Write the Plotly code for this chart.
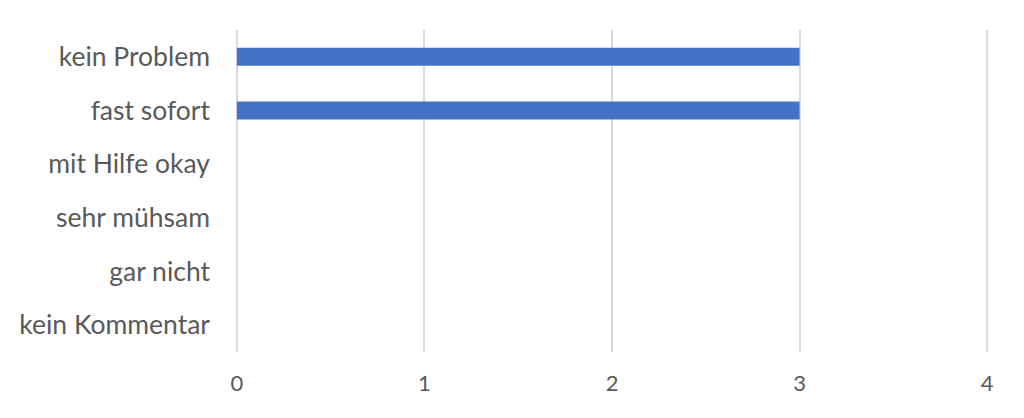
import plotly.graph_objects as go

categories = ["kein Problem", "fast sofort", "mit Hilfe okay", "sehr mühsam", "gar nicht", "kein Kommentar"]
values = [3, 3, 0, 0, 0, 0]
x_ticks = [0, 1, 2, 3, 4]

fig = go.Figure(go.Bar(
    y=categories, x=values, orientation="h",
    marker=dict(color="#4472C4", line=dict(width=0)),
))

fig.update_layout(
    width=1008, height=402,
    margin=dict(l=227, r=27, t=22, b=58),
    paper_bgcolor="white", plot_bgcolor="white",
    bargap=0.665,
    showlegend=False,
    font=dict(family="Lato", size=26.5, color="#595959"),
)
fig.update_xaxes(
    range=[-0.01, 4.01], tickvals=x_ticks, showgrid=True, gridcolor="#D9D9D9", gridwidth=1.5,
    zeroline=True, zerolinecolor="#D9D9D9", zerolinewidth=1.5,
    showline=False, ticks="", ticklabelstandoff=16, automargin=False,
    tickfont=dict(size=22),
)
fig.update_yaxes(
    categoryorder="array", categoryarray=categories, autorange="reversed",
    showgrid=False, zeroline=False, showline=False, ticks="", ticklabelstandoff=24,
    automargin=False,
)
fig.write_html("out.html")
